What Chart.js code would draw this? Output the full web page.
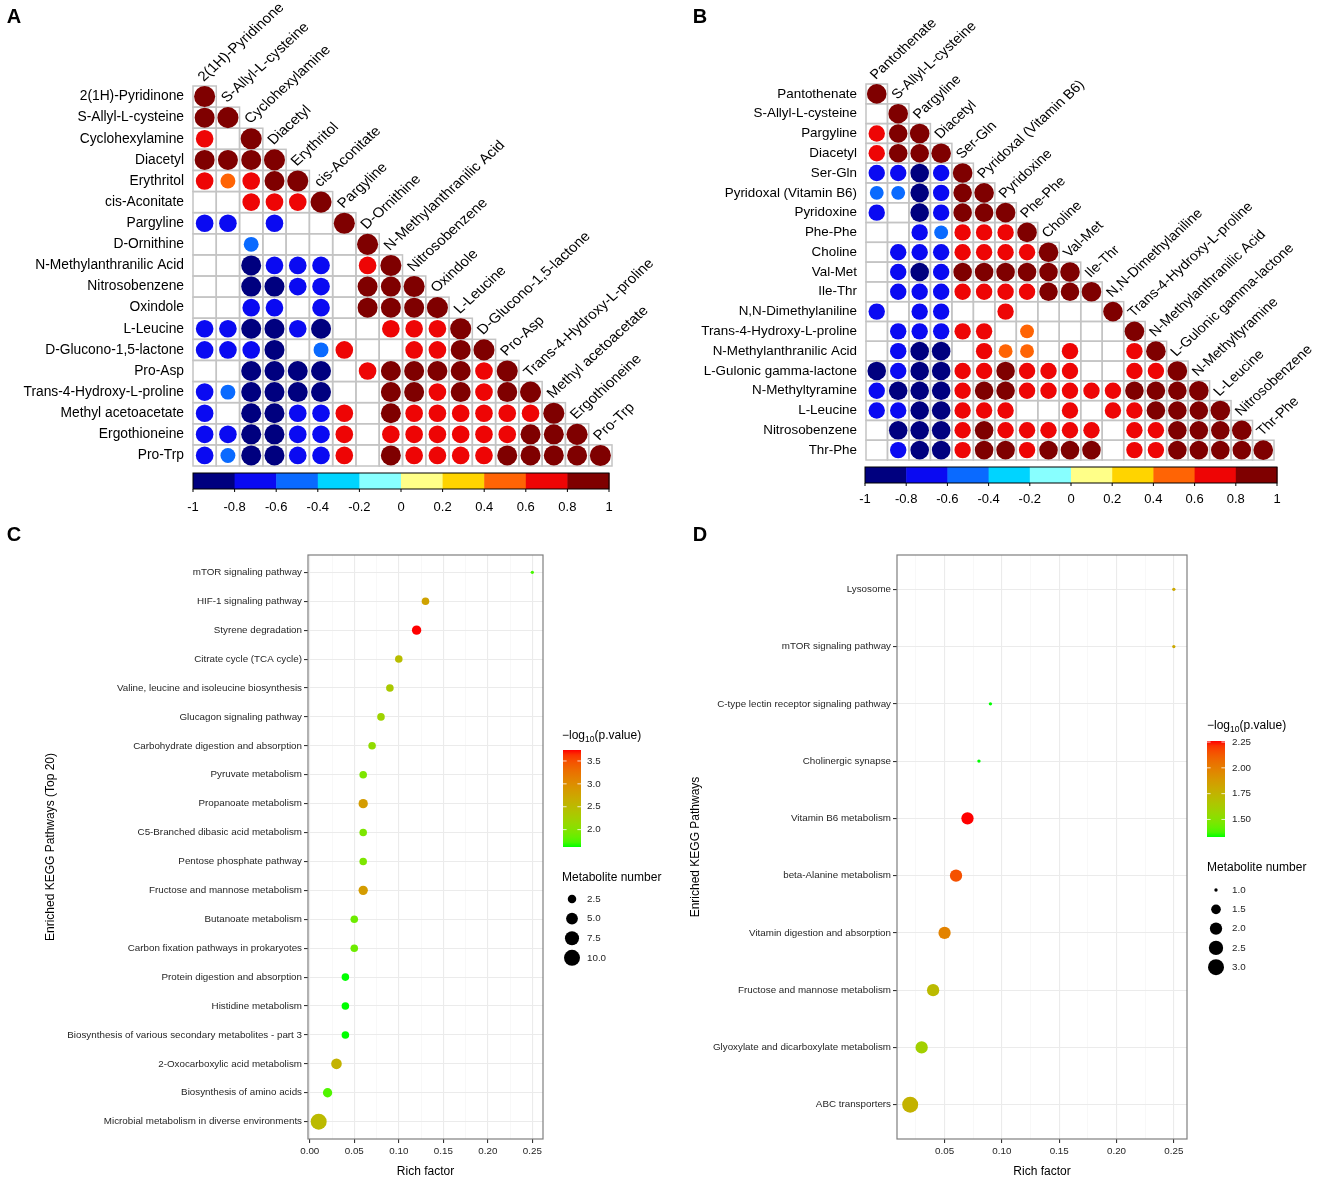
<!DOCTYPE html>
<html>
<head>
<meta charset="utf-8">
<title>Metabolite correlation and KEGG enrichment</title>
<script src="https://cdn.jsdelivr.net/npm/chart.js@4.4.1/dist/chart.umd.min.js"></script>
<style>
  html, body { margin: 0; padding: 0; background: #fff; }
  #fig { position: relative; width: 1325px; height: 1182px; overflow: hidden; }
  #fig canvas { position: absolute; }
</style>
</head>
<body>
<div id="fig">
  <canvas id="chartA" width="662" height="525" style="left:0;top:0"></canvas>
  <canvas id="chartB" width="663" height="525" style="left:662px;top:0"></canvas>
  <canvas id="chartC" width="662" height="657" style="left:0;top:525px"></canvas>
  <canvas id="chartD" width="663" height="657" style="left:662px;top:525px"></canvas>
</div>
<script>
// ---- A: correlation of metabolites (lower triangle, null = blank cell)
var metabolitesA = ['2(1H)-Pyridinone', 'S-Allyl-L-cysteine', 'Cyclohexylamine', 'Diacetyl', 'Erythritol',
  'cis-Aconitate', 'Pargyline', 'D-Ornithine', 'N-Methylanthranilic Acid', 'Nitrosobenzene', 'Oxindole',
  'L-Leucine', 'D-Glucono-1,5-lactone', 'Pro-Asp', 'Trans-4-Hydroxy-L-proline', 'Methyl acetoacetate',
  'Ergothioneine', 'Pro-Trp'];
var corrA = [
  [1],
  [0.9, 1],
  [0.7, null, 1],
  [0.9, 0.9, 0.9, 1],
  [0.7, 0.5, 0.7, 0.9, 1],
  [null, null, 0.7, 0.7, 0.7, 1],
  [-0.7, -0.7, null, -0.7, null, null, 1],
  [null, null, -0.5, null, null, null, null, 1],
  [null, null, -0.9, -0.7, -0.7, -0.7, null, 0.7, 1],
  [null, null, -0.9, -0.9, -0.7, -0.7, null, 0.9, 0.9, 1],
  [null, null, -0.7, -0.7, null, -0.7, null, 0.9, 0.9, 0.9, 1],
  [-0.7, -0.7, -0.9, -0.9, -0.7, -0.9, null, null, 0.7, 0.7, 0.7, 1],
  [-0.7, -0.7, -0.7, -0.9, null, -0.5, 0.7, null, null, 0.7, 0.7, 0.9, 1],
  [null, null, -0.9, -0.9, -0.9, -0.9, null, 0.7, 0.9, 0.9, 0.9, 0.9, 0.7, 1],
  [-0.7, -0.5, -0.9, -0.9, -0.9, -0.9, null, null, 0.9, 0.9, 0.7, 0.9, 0.7, 0.9, 1],
  [-0.7, null, -0.9, -0.9, -0.7, -0.7, 0.7, null, 0.9, 0.7, 0.7, 0.7, 0.7, 0.7, 0.7, 1],
  [-0.7, -0.7, -0.9, -0.9, -0.7, -0.7, 0.7, null, 0.7, 0.7, 0.7, 0.7, 0.7, 0.7, 0.9, 0.9, 1],
  [-0.7, -0.5, -0.9, -0.9, -0.7, -0.7, 0.7, null, 0.9, 0.7, 0.7, 0.7, 0.7, 0.9, 0.9, 0.9, 0.9, 1]
];

// ---- B
var metabolitesB = ['Pantothenate', 'S-Allyl-L-cysteine', 'Pargyline', 'Diacetyl', 'Ser-Gln',
  'Pyridoxal (Vitamin B6)', 'Pyridoxine', 'Phe-Phe', 'Choline', 'Val-Met', 'Ile-Thr', 'N,N-Dimethylaniline',
  'Trans-4-Hydroxy-L-proline', 'N-Methylanthranilic Acid', 'L-Gulonic gamma-lactone', 'N-Methyltyramine',
  'L-Leucine', 'Nitrosobenzene', 'Thr-Phe'];
var corrB = [
  [1],
  [null, 1],
  [0.7, 0.9, 1],
  [0.7, 0.9, 0.9, 1],
  [-0.7, -0.7, -0.9, -0.7, 1],
  [-0.5, -0.5, -0.9, -0.7, 0.9, 1],
  [-0.7, null, -0.9, -0.7, 0.9, 0.9, 1],
  [null, null, -0.7, -0.5, 0.7, 0.7, 0.7, 1],
  [null, -0.7, -0.7, -0.7, 0.7, 0.7, 0.7, 0.7, 1],
  [null, -0.7, -0.9, -0.7, 0.9, 0.9, 0.9, 0.9, 0.9, 1],
  [null, -0.7, -0.7, -0.7, 0.7, 0.7, 0.7, 0.7, 0.9, 0.9, 1],
  [-0.7, null, -0.7, -0.7, null, null, 0.7, null, null, null, null, 1],
  [null, -0.7, -0.7, -0.7, 0.7, 0.7, null, 0.5, null, null, null, null, 1],
  [null, -0.7, -0.9, -0.9, null, 0.7, 0.5, 0.5, null, 0.7, null, null, 0.7, 1],
  [-0.9, -0.7, -0.9, -0.9, 0.7, 0.7, 0.9, 0.7, 0.7, 0.7, null, null, 0.7, 0.7, 1],
  [-0.7, -0.9, -0.9, -0.9, 0.7, 0.9, 0.9, 0.7, 0.7, 0.7, 0.7, 0.7, 0.9, 0.9, 0.9, 1],
  [-0.7, -0.7, -0.9, -0.9, 0.7, 0.7, 0.7, null, null, 0.7, null, 0.7, 0.7, 0.9, 0.9, 0.9, 1],
  [null, -0.9, -0.9, -0.9, 0.7, 0.9, 0.7, 0.7, 0.7, 0.7, 0.7, null, 0.7, 0.7, 0.9, 0.9, 0.9, 1],
  [null, -0.7, -0.9, -0.9, 0.7, 0.9, 0.9, 0.7, 0.9, 0.9, 0.9, null, 0.7, 0.7, 0.9, 0.9, 0.9, 0.9, 1]
];

var corrTicks = [-1, -0.8, -0.6, -0.4, -0.2, 0, 0.2, 0.4, 0.6, 0.8, 1];
var corrTickLabels = ['-1', '-0.8', '-0.6', '-0.4', '-0.2', '0', '0.2', '0.4', '0.6', '0.8', '1'];

// ---- C: KEGG enrichment (top 20)
var pathwaysC = ['mTOR signaling pathway', 'HIF-1 signaling pathway', 'Styrene degradation',
  'Citrate cycle (TCA cycle)', 'Valine, leucine and isoleucine biosynthesis', 'Glucagon signaling pathway',
  'Carbohydrate digestion and absorption', 'Pyruvate metabolism', 'Propanoate metabolism',
  'C5-Branched dibasic acid metabolism', 'Pentose phosphate pathway', 'Fructose and mannose metabolism',
  'Butanoate metabolism', 'Carbon fixation pathways in prokaryotes', 'Protein digestion and absorption',
  'Histidine metabolism', 'Biosynthesis of various secondary metabolites - part 3',
  '2-Oxocarboxylic acid metabolism', 'Biosynthesis of amino acids',
  'Microbial metabolism in diverse environments'];
var richC = [0.25, 0.13, 0.12, 0.10, 0.09, 0.08, 0.07, 0.06, 0.06, 0.06, 0.06, 0.06, 0.05, 0.05, 0.04, 0.04, 0.04, 0.03, 0.02, 0.01];
var logpC = [1.72, 2.78, 3.74, 2.47, 2.32, 2.20, 2.09, 1.96, 2.85, 1.96, 1.96, 2.85, 1.87, 1.87, 1.62, 1.62, 1.62, 2.60, 1.75, 2.50];
var countC = [1, 2, 3, 2, 2, 2, 2, 2, 3, 2, 2, 3, 2, 2, 2, 2, 2, 4, 3, 10];
var richTicksC = [0, 0.05, 0.10, 0.15, 0.20, 0.25];
var pTicksC = [2.0, 2.5, 3.0, 3.5];
var pTickLabelsC = ['2.0', '2.5', '3.0', '3.5'];
var sizeBreaksC = [2.5, 5.0, 7.5, 10.0];
var sizeLabelsC = ['2.5', '5.0', '7.5', '10.0'];

// ---- D: KEGG enrichment
var pathwaysD = ['Lysosome', 'mTOR signaling pathway', 'C-type lectin receptor signaling pathway',
  'Cholinergic synapse', 'Vitamin B6 metabolism', 'beta-Alanine metabolism', 'Vitamin digestion and absorption',
  'Fructose and mannose metabolism', 'Glyoxylate and dicarboxylate metabolism', 'ABC transporters'];
var richD = [0.25, 0.25, 0.09, 0.08, 0.07, 0.06, 0.05, 0.04, 0.03, 0.02];
var logpD = [1.81, 1.81, 1.33, 1.33, 2.26, 2.15, 1.98, 1.72, 1.60, 1.76];
var countD = [1, 1, 1, 1, 2, 2, 2, 2, 2, 3];
var richTicksD = [0.05, 0.10, 0.15, 0.20, 0.25];
var pTicksD = [1.50, 1.75, 2.00, 2.25];
var pTickLabelsD = ['1.50', '1.75', '2.00', '2.25'];
var sizeBreaksD = [1.0, 1.5, 2.0, 2.5, 3.0];
var sizeLabelsD = ['1.0', '1.5', '2.0', '2.5', '3.0'];

var sans = '"Liberation Sans", Arial, Helvetica, sans-serif';
Chart.defaults.font.family = sans;
Chart.defaults.color = '#000';

// corrplot style colour bins
var corrColors = ['#00007F', '#0A0AF2', '#0A6AFF', '#00D4FF', '#88FFFF', '#FFFF88', '#FFD400', '#FF6405', '#EE0505', '#7F0000'];
function corrColor(v) {
  var i = Math.floor((v + 1) / 0.2 + 1e-9);
  return corrColors[Math.max(0, Math.min(9, i))];
}

function corrPoints(rows) {
  var pts = [];
  rows.forEach(function (row, i) {
    row.forEach(function (v, j) {
      if (v !== null) pts.push({ x: j, y: i, v: v });
    });
  });
  return pts;
}

function panelLetter(ctx, letter, x, y) {
  ctx.save();
  ctx.font = 'bold 20px ' + sans;
  ctx.fillStyle = '#000';
  ctx.textAlign = 'center';
  ctx.textBaseline = 'middle';
  ctx.fillText(letter, x, y);
  ctx.restore();
}

function corrDecor(names, o) {
  return {
    id: 'corrDecor',
    beforeDatasetsDraw: function (chart) {
      var ctx = chart.ctx, xs = chart.scales.x, ys = chart.scales.y, n = names.length;
      var cw = chart.chartArea.width / n, ch = chart.chartArea.height / n;
      ctx.save();
      ctx.strokeStyle = '#C4C4C4';
      ctx.lineWidth = 1.5;
      for (var i = 0; i < n; i++) {
        for (var j = 0; j <= i; j++) {
          ctx.strokeRect(xs.getPixelForValue(j) - cw / 2, ys.getPixelForValue(i) - ch / 2, cw, ch);
        }
      }
      ctx.restore();
    },
    afterDraw: function (chart) {
      var ctx = chart.ctx, xs = chart.scales.x, ys = chart.scales.y, n = names.length;
      var ch = chart.chartArea.height / n;
      ctx.save();
      // column names along the diagonal (figure is a bit stretched horizontally)
      ctx.font = o.fontSize + 'px ' + sans;
      ctx.fillStyle = '#000';
      ctx.textAlign = 'left';
      ctx.textBaseline = 'alphabetic';
      names.forEach(function (name, j) {
        ctx.save();
        ctx.translate(xs.getPixelForValue(j) - 1, ys.getPixelForValue(j) - ch / 2 - 4);
        ctx.scale(o.stretch, 1);
        ctx.rotate(-Math.PI / 4);
        ctx.fillText(name, 0, 0);
        ctx.restore();
      });
      // colour key
      var b = o.bar, w = b.right - b.left;
      for (var k = 0; k < 10; k++) {
        ctx.fillStyle = corrColors[k];
        ctx.fillRect(b.left + k * w / 10, b.top, w / 10 + 0.5, b.bottom - b.top);
      }
      ctx.strokeStyle = '#000';
      ctx.lineWidth = 1;
      ctx.strokeRect(b.left, b.top, w, b.bottom - b.top);
      ctx.font = '13px ' + sans;
      ctx.textAlign = 'center';
      ctx.textBaseline = 'middle';
      ctx.fillStyle = '#000';
      corrTicks.forEach(function (t, i) {
        var x = b.left + (t + 1) / 2 * w;
        ctx.beginPath();
        ctx.moveTo(x, b.bottom);
        ctx.lineTo(x, b.bottom + 3);
        ctx.stroke();
        ctx.fillText(corrTickLabels[i], x, b.labelY);
      });
      ctx.restore();
      panelLetter(ctx, o.letter, o.letterX, o.letterY);
    }
  };
}

function corrChart(id, names, rows, o) {
  var n = names.length;
  return new Chart(document.getElementById(id), {
    type: 'scatter',
    data: {
      datasets: [{
        data: corrPoints(rows),
        clip: false,
        borderWidth: 0,
        backgroundColor: function (c) { return c.raw ? corrColor(c.raw.v) : '#000'; },
        pointRadius: function (c) {
          var a = c.chart.chartArea;
          if (!a || !c.raw) return 0;
          var base = (a.width / n + a.height / n) / 4 * 0.95;
          return base * Math.sqrt(Math.abs(c.raw.v));
        }
      }]
    },
    options: {
      responsive: false,
      animation: false,
      events: [],
      layout: { padding: o.padding },
      plugins: { legend: { display: false }, tooltip: { enabled: false } },
      scales: {
        x: { type: 'linear', display: false, min: -0.5, max: n - 0.5 },
        y: {
          type: 'linear', reverse: true, min: -0.5, max: n - 0.5,
          afterBuildTicks: function (s) { s.ticks = names.map(function (nm, i) { return { value: i }; }); },
          afterFit: function (s) { s.width = o.yWidth; },
          grid: { display: false, drawTicks: false },
          border: { display: false },
          ticks: {
            autoSkip: false, padding: 9, color: '#000',
            font: { size: o.fontSize, family: sans },
            callback: function (v) { return names[v]; }
          }
        }
      }
    },
    plugins: [corrDecor(names, o)]
  });
}

// ggplot-like green -> red gradient in Lab space
function toLin(c) { c /= 255; return c <= 0.04045 ? c / 12.92 : Math.pow((c + 0.055) / 1.055, 2.4); }
function toSrgb(c) {
  c = Math.max(0, Math.min(1, c));
  return Math.round(255 * (c <= 0.0031308 ? 12.92 * c : 1.055 * Math.pow(c, 1 / 2.4) - 0.055));
}
function rgbToLab(r, g, b) {
  var R = toLin(r), G = toLin(g), B = toLin(b);
  var X = (0.4124 * R + 0.3576 * G + 0.1805 * B) / 0.95047;
  var Y = 0.2126 * R + 0.7152 * G + 0.0722 * B;
  var Z = (0.0193 * R + 0.1192 * G + 0.9505 * B) / 1.08883;
  var f = function (t) { return t > 0.008856 ? Math.cbrt(t) : 7.787 * t + 16 / 116; };
  var fx = f(X), fy = f(Y), fz = f(Z);
  return [116 * fy - 16, 500 * (fx - fy), 200 * (fy - fz)];
}
function labToRgb(L, a, b) {
  var fy = (L + 16) / 116, fx = fy + a / 500, fz = fy - b / 200;
  var inv = function (t) { var t3 = t * t * t; return t3 > 0.008856 ? t3 : (t - 16 / 116) / 7.787; };
  var X = 0.95047 * inv(fx), Y = inv(fy), Z = 1.08883 * inv(fz);
  var R = 3.2406 * X - 1.5372 * Y - 0.4986 * Z;
  var G = -0.9689 * X + 1.8758 * Y + 0.0415 * Z;
  var B = 0.0557 * X - 0.2040 * Y + 1.0570 * Z;
  return 'rgb(' + toSrgb(R) + ',' + toSrgb(G) + ',' + toSrgb(B) + ')';
}
var labGreen = rgbToLab(0, 255, 0), labRed = rgbToLab(255, 0, 0);
function greenRed(t) {
  t = Math.max(0, Math.min(1, t));
  return labToRgb(labGreen[0] + (labRed[0] - labGreen[0]) * t,
    labGreen[1] + (labRed[1] - labGreen[1]) * t,
    labGreen[2] + (labRed[2] - labGreen[2]) * t);
}

// ggplot scale_size (range 1..6, area scaled) -> pixel radius
function dotRadius(n, lo, hi) {
  var size = 1 + 5 * Math.sqrt((n - lo) / (hi - lo));
  return 0.444 * (2.845 * size + 0.94);
}

function isMajor(v) { return Math.abs(v / 0.05 - Math.round(v / 0.05)) < 1e-6; }

function keggDecor(o, pmin, pmax, nmin, nmax) {
  return {
    id: 'keggDecor',
    beforeDatasetsDraw: function (chart) {
      var a = chart.chartArea, ctx = chart.ctx;
      ctx.save();
      ctx.strokeStyle = '#7F7F7F';
      ctx.lineWidth = 1.2;
      ctx.strokeRect(a.left, a.top, a.right - a.left, a.bottom - a.top);
      ctx.restore();
    },
    afterDraw: function (chart) {
      var ctx = chart.ctx, L = o.legendX, b = o.bar;
      ctx.save();
      ctx.textAlign = 'left';
      ctx.textBaseline = 'middle';
      ctx.fillStyle = '#000';
      // colour legend title: -log10(p.value)
      var x = L;
      ctx.font = '12px ' + sans;
      ctx.fillText('\u2212log', x, o.colorTitleY);
      x += ctx.measureText('\u2212log').width;
      ctx.font = '8.5px ' + sans;
      ctx.fillText('10', x, o.colorTitleY + 3.5);
      x += ctx.measureText('10').width;
      ctx.font = '12px ' + sans;
      ctx.fillText('(p.value)', x, o.colorTitleY);
      // colour bar
      var grad = ctx.createLinearGradient(0, b.bottom, 0, b.top);
      for (var k = 0; k <= 20; k++) grad.addColorStop(k / 20, greenRed(k / 20));
      ctx.fillStyle = grad;
      ctx.fillRect(b.left, b.top, b.right - b.left, b.bottom - b.top);
      ctx.font = '9.8px ' + sans;
      o.colorTicks.forEach(function (v, i) {
        var y = b.bottom - (v - pmin) / (pmax - pmin) * (b.bottom - b.top);
        ctx.strokeStyle = '#fff';
        ctx.lineWidth = 0.8;
        ctx.beginPath();
        ctx.moveTo(b.left, y); ctx.lineTo(b.left + 3.6, y);
        ctx.moveTo(b.right - 3.6, y); ctx.lineTo(b.right, y);
        ctx.stroke();
        ctx.fillStyle = '#262626';
        ctx.fillText(o.colorLabels[i], o.labelX, y);
      });
      // size legend
      ctx.font = '12px ' + sans;
      ctx.fillStyle = '#000';
      ctx.fillText('Metabolite number', L, o.sizeTitleY);
      o.sizeBreaks.forEach(function (n, i) {
        var y = o.sizeTop + i * o.sizeStep;
        ctx.beginPath();
        ctx.arc(o.keyX, y, dotRadius(n, nmin, nmax), 0, 2 * Math.PI);
        ctx.fillStyle = '#000';
        ctx.fill();
        ctx.font = '9.8px ' + sans;
        ctx.fillStyle = '#262626';
        ctx.fillText(o.sizeLabels[i], o.labelX, y);
      });
      ctx.restore();
      panelLetter(ctx, o.letter, o.letterX, o.letterY);
    }
  };
}

function keggChart(id, names, rich, logp, count, o) {
  var pmin = Math.min.apply(null, logp), pmax = Math.max.apply(null, logp);
  var nmin = Math.min.apply(null, count), nmax = Math.max.apply(null, count);
  var pts = names.map(function (nm, i) { return { x: rich[i], y: i, p: logp[i], n: count[i] }; });
  // major breaks plus minor breaks halfway between them
  var grid = [];
  o.xTicks.forEach(function (t) { grid.push(t); grid.push(t - 0.025); grid.push(t + 0.025); });
  grid = grid.filter(function (t, i) {
    return t >= o.xMin && t <= o.xMax && grid.findIndex(function (u) { return Math.abs(u - t) < 1e-9; }) === i;
  }).sort(function (p, q) { return p - q; });

  return new Chart(document.getElementById(id), {
    type: 'scatter',
    data: {
      datasets: [{
        data: pts,
        clip: false,
        borderWidth: 0,
        backgroundColor: function (c) { return c.raw ? greenRed((c.raw.p - pmin) / (pmax - pmin)) : '#000'; },
        pointRadius: function (c) { return c.raw ? dotRadius(c.raw.n, nmin, nmax) : 0; }
      }]
    },
    options: {
      responsive: false,
      animation: false,
      events: [],
      layout: { padding: o.padding },
      plugins: { legend: { display: false }, tooltip: { enabled: false } },
      scales: {
        x: {
          type: 'linear', min: o.xMin, max: o.xMax,
          afterBuildTicks: function (s) { s.ticks = grid.map(function (t) { return { value: t }; }); },
          afterFit: function (s) { s.height = 40; },
          border: { display: false },
          grid: {
            color: function (c) { return c.tick && isMajor(c.tick.value) ? '#EBEBEB' : '#F3F3F3'; },
            lineWidth: function (c) { return c.tick && isMajor(c.tick.value) ? 1.1 : 0.6; },
            tickColor: function (c) { return c.tick && isMajor(c.tick.value) ? '#333' : 'rgba(0,0,0,0)'; },
            tickLength: 4
          },
          ticks: {
            autoSkip: false, maxRotation: 0, padding: 2, color: '#262626',
            font: { size: 9.8, family: sans },
            callback: function (v) { return isMajor(v) ? v.toFixed(2) : ''; }
          },
          title: { display: true, text: 'Rich factor', color: '#000', font: { size: 12, family: sans }, padding: 0 }
        },
        y: {
          type: 'linear', reverse: true, min: -0.6, max: names.length - 0.4,
          afterBuildTicks: function (s) { s.ticks = names.map(function (nm, i) { return { value: i }; }); },
          afterFit: function (s) { s.width = o.yWidth; },
          border: { display: false },
          grid: { color: '#EBEBEB', lineWidth: 1.1, tickColor: '#333', tickLength: 4 },
          ticks: {
            autoSkip: false, padding: 2, color: '#262626',
            font: { size: 9.8, family: sans },
            callback: function (v) { return names[v]; }
          },
          title: { display: true, text: o.yTitle, color: '#000', font: { size: 12, family: sans }, padding: 0 }
        }
      }
    },
    plugins: [keggDecor(o, pmin, pmax, nmin, nmax)]
  });
}

corrChart('chartA', metabolitesA, corrA, {
  padding: { left: 0, top: 86, right: 50, bottom: 59 }, yWidth: 193, fontSize: 13.8, stretch: 1.1,
  bar: { left: 193, right: 609, top: 473, bottom: 489, labelY: 507 },
  letter: 'A', letterX: 14, letterY: 17
});
corrChart('chartB', metabolitesB, corrB, {
  padding: { left: 0, top: 84, right: 51, bottom: 65 }, yWidth: 204, fontSize: 13.4, stretch: 1.09,
  bar: { left: 203, right: 615, top: 467, bottom: 483, labelY: 499 },
  letter: 'B', letterX: 38, letterY: 17
});
keggChart('chartC', pathwaysC, richC, logpC, countC, {
  padding: { left: 43, top: 30, right: 119, bottom: 3 }, yWidth: 265,
  xMin: -0.002, xMax: 0.262, xTicks: richTicksC, yTitle: 'Enriched KEGG Pathways (Top 20)',
  legendX: 562, colorTitleY: 211, bar: { left: 563, right: 581, top: 225, bottom: 322 },
  colorTicks: pTicksC, colorLabels: pTickLabelsC, labelX: 587,
  sizeTitleY: 353, sizeTop: 374, sizeStep: 19.6, keyX: 572,
  sizeBreaks: sizeBreaksC, sizeLabels: sizeLabelsC,
  letter: 'C', letterX: 14, letterY: 10
});
keggChart('chartD', pathwaysD, richD, logpD, countD, {
  padding: { left: 26, top: 30, right: 138, bottom: 3 }, yWidth: 209,
  xMin: 0.0085, xMax: 0.2615, xTicks: richTicksD, yTitle: 'Enriched KEGG Pathways',
  legendX: 545, colorTitleY: 201, bar: { left: 545, right: 563, top: 216, bottom: 312 },
  colorTicks: pTicksD, colorLabels: pTickLabelsD, labelX: 570,
  sizeTitleY: 343, sizeTop: 365, sizeStep: 19.3, keyX: 554,
  sizeBreaks: sizeBreaksD, sizeLabels: sizeLabelsD,
  letter: 'D', letterX: 38, letterY: 10
});
</script>
</body>
</html>
